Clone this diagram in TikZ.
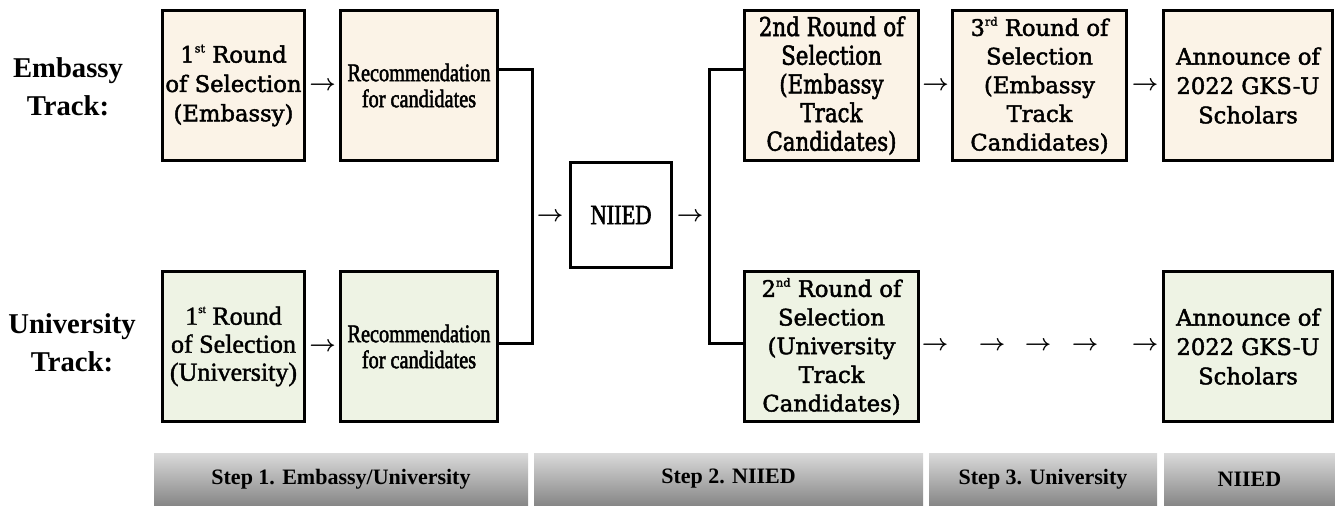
\documentclass[tikz,border=0pt]{standalone}
\usepackage{fontspec}
\setmainfont{Liberation Serif}
\newfontfamily\boxfont[FakeBold=2]{DejaVu Serif}
\newfontfamily\narrowbox[FakeStretch=0.82,FakeBold=2]{DejaVu Serif}
\newfontfamily\condfont[FakeStretch=0.8,FakeBold=2]{Liberation Serif}
\newfontfamily\timesbold[FakeBold=1.5]{Liberation Serif}
\usetikzlibrary{calc}
\newcommand\sups[1]{\raisebox{0.45em}{\fontsize{8.5}{8.5}\selectfont #1}}
\newcommand\arrglyph{{\boldmath$\rightarrow$}}
\definecolor{embfill}{HTML}{FBF3E7}
\definecolor{unifill}{HTML}{EEF3E4}
\definecolor{barTop}{HTML}{DADADA}
\definecolor{barBot}{HTML}{878787}
\tikzset{
  box/.style={draw, line width=2.25pt, inner sep=0pt, align=center, minimum height=150*0.75pt},
  emb/.style={box, fill=embfill},
  uni/.style={box, fill=unifill},
  dvs/.style={font=\boxfont\fontsize{17}{22}\selectfont},
  arr/.style={inner sep=0pt, font=\fontsize{18}{18}\selectfont},
  conn/.style={line width=2.25pt, line join=miter, line cap=rect},
  bar/.style={minimum height=52*0.75pt, inner sep=0pt, top color=barTop, bottom color=barBot, font=\bfseries\fontsize{16.5}{18}\selectfont},
  lab/.style={align=center, inner sep=0pt, font=\bfseries\fontsize{21.5}{28.5}\selectfont},
}
\begin{document}
\begin{tikzpicture}[x=0.75pt,y=-0.75pt]
\useasboundingbox (0,0) rectangle (1335,507);
% track labels
\node[lab] (LE) at (68,87) {Embassy\\Track:};
\node[lab] (LU) at (72,343) {University\\Track:};
% embassy track
\node[emb, dvs, minimum width=142*0.75pt] (A1) at (233.5,85.5) {1\sups{st} Round\\of Selection\\(Embassy)};
\node[emb, minimum width=157*0.75pt, font=\condfont\fontsize{19}{19.5}\selectfont] (A2) at (419,85.5) {Recommendation\\for candidates};
% university track
\node[uni, minimum width=142*0.75pt, font=\timesbold\fontsize{19.5}{21}\selectfont] (B1) at (233.5,346.5) {1\sups{st} Round\\of Selection\\(University)};
\node[uni, minimum width=157*0.75pt, font=\condfont\fontsize{19}{19.5}\selectfont] (B2) at (419,346.5) {Recommendation\\for candidates};
% NIIED
\node[box, fill=white, minimum width=101*0.75pt, minimum height=105*0.75pt, font=\condfont\fontsize{21}{24}\selectfont] (N) at (621,215) {NIIED};
% right side
\node[emb, minimum width=174*0.75pt, font=\narrowbox\fontsize{19.5}{21.5}\selectfont] (R2) at (831.5,85.5) {2nd Round of\\Selection\\(Embassy\\Track\\Candidates)};
\node[emb, minimum width=174*0.75pt, font=\boxfont\fontsize{17}{21.5}\selectfont] (R3) at (1039.5,85.5) {3\sups{rd} Round of\\Selection\\(Embassy\\Track\\Candidates)};
\node[emb, dvs, minimum width=169*0.75pt] (AN) at (1248,85.5) {Announce of\\2022 GKS-U\\Scholars};
\node[uni, minimum width=174*0.75pt, font=\boxfont\fontsize{17}{21.5}\selectfont] (R2u) at (831.5,346.5) {2\sups{nd} Round of\\Selection\\(University\\Track\\Candidates)};
\node[uni, dvs, minimum width=169*0.75pt] (ANu) at (1248,346.5) {Announce of\\2022 GKS-U\\Scholars};
% arrow glyphs
\node[arr] at ($(A1.east)!0.5!(A2.west)$) {\arrglyph};
\node[arr] at ($(B1.east)!0.5!(B2.west)$) {\arrglyph};
\node[arr] at (550,217) {\arrglyph};
\node[arr] at (690,217) {\arrglyph};
\node[arr] at ($(R2.east)!0.5!(R3.west)$) {\arrglyph};
\node[arr] at ($(R3.east)!0.5!(AN.west)$) {\arrglyph};
\node[arr] at (935,346) {\arrglyph};
\node[arr] at (992,346) {\arrglyph};
\node[arr] at (1038,346) {\arrglyph};
\node[arr] at (1085,346) {\arrglyph};
\node[arr] at (1145,346) {\arrglyph};
% connectors
\coordinate (jlt) at (532.5,69.5);
\coordinate (jlb) at (532.5,343);
\coordinate (jrt) at (709.5,69.5);
\coordinate (jrb) at (709.5,343);
\draw[conn] (A2.east |- jlt) -- (jlt) -- (jlb) -- (B2.east |- jlb);
\draw[conn] (R2.west |- jrt) -- (jrt) -- (jrb) -- (R2u.west |- jrb);
% step bars
\node[bar, minimum width=374*0.75pt] (S1) at (341,479) {Step 1. Embassy/University};
\node[bar, minimum width=389*0.75pt] (S2) at (728.5,479) {Step 2. NIIED};
\node[bar, minimum width=228*0.75pt] (S3) at (1043,479) {Step 3. University};
\node[bar, minimum width=171*0.75pt] (S4) at (1249.5,479) {NIIED};
\end{tikzpicture}
\end{document}
